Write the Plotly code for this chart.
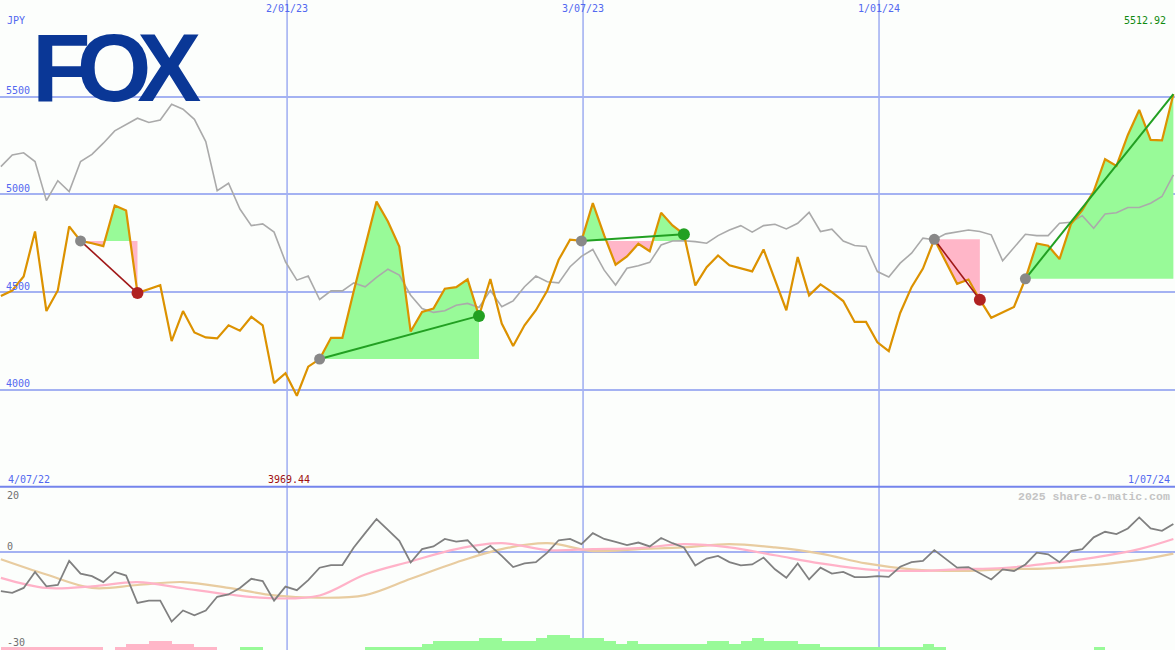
import pandas as pd
import plotly.graph_objects as go

# ---------------- data ----------------
dates = pd.date_range("2022-07-10", periods=104, freq="7D")

price = [4480, 4508, 4580, 4810, 4403, 4508, 4836, 4762, 4750, 4735,
         4943, 4917, 4495, 4517, 4535, 4249, 4403, 4293, 4268, 4263,
         4330, 4302, 4373, 4330, 4034, 4085, 3969.44, 4118, 4157, 4266,
         4266, 4505, 4735, 4963, 4861, 4733, 4298, 4398, 4415, 4517,
         4525, 4565, 4378, 4567, 4339, 4224, 4330, 4407, 4508, 4665,
         4768, 4762, 4955, 4790, 4640, 4682, 4747, 4709, 4906, 4841,
         4796, 4534, 4627, 4687, 4637, 4620, 4606, 4718, 4563, 4407,
         4679, 4483, 4539, 4500, 4454, 4347, 4347, 4243, 4198, 4393,
         4525, 4620, 4770, 4652, 4542, 4564, 4461, 4368, 4398, 4424,
         4568, 4749, 4737, 4669, 4848, 4920, 5016, 5180, 5146, 5304,
         5432, 5279, 5276, 5512.92]

benchmark = [5142, 5202, 5213, 5168, 4968, 5070, 5014, 5168, 5205, 5262,
             5325, 5359, 5390, 5368, 5381, 5461, 5436, 5384, 5270, 5019,
             5057, 4925, 4840, 4849, 4807, 4655, 4561, 4582, 4462, 4506,
             4506, 4547, 4527, 4575, 4617, 4587, 4484, 4416, 4396, 4404,
             4433, 4442, 4421, 4509, 4425, 4455, 4527, 4582, 4553, 4547,
             4630, 4683, 4718, 4612, 4536, 4622, 4635, 4652, 4741, 4761,
             4763, 4758, 4750, 4789, 4818, 4840, 4807, 4840, 4847, 4823,
             4852, 4908, 4810, 4822, 4761, 4738, 4733, 4605, 4577, 4648,
             4699, 4776, 4768, 4798, 4807, 4818, 4810, 4793, 4660, 4727,
             4796, 4789, 4789, 4852, 4857, 4891, 4827, 4900, 4906, 4933,
             4933, 4955, 4989, 5100]

momentum = [-12.0, -12.5, -11.0, -6.1, -10.5, -10.1, -2.7, -6.6, -7.4, -9.2,
            -6.1, -7.2, -15.6, -14.9, -14.9, -21.3, -17.9, -19.4, -17.9, -13.7,
            -13.0, -11.0, -8.2, -8.9, -14.9, -10.6, -11.7, -8.6, -4.8, -4.0,
            -4.0, 1.4, 5.8, 10.1, 6.8, 3.4, -3.2, 0.9, 1.7, 4.0,
            3.2, 3.6, -0.2, 1.9, -1.2, -4.6, -3.5, -3.1, -0.2, 3.6,
            4.0, 2.4, 5.8, 4.0, 3.1, 2.1, 2.9, 1.7, 4.3, 2.7,
            1.4, -4.1, -2.0, -1.2, -3.1, -4.1, -3.8, -1.7, -5.3, -7.9,
            -3.5, -8.4, -4.8, -6.6, -6.1, -7.7, -7.7, -7.4, -7.6, -4.5,
            -3.1, -2.7, 0.6, -2.2, -4.8, -4.6, -6.6, -8.4, -5.3, -5.8,
            -3.8, -0.2, -0.7, -3.1, 0.3, 0.9, 4.5, 6.2, 5.5, 7.2,
            10.6, 7.2, 6.5, 8.6]

ma_index = [0, 4, 8, 12, 16, 20, 24, 28, 32, 36, 40, 44, 48, 52, 56, 60,
            64, 68, 72, 76, 80, 84, 88, 92, 96, 100, 103]
ma_fast = [-7.9, -11.0, -10.5, -9.2, -11.1, -13.0, -14.2, -13.3, -6.9, -2.9,
           0.9, 2.7, 0.6, 0.9, 1.2, 2.4, 1.4, -1.0, -3.5, -5.3,
           -5.8, -5.3, -4.9, -3.5, -1.7, 0.9, 4.0]
ma_slow = [-2.2, -6.9, -11.0, -10.1, -9.2, -11.0, -13.3, -14.0, -13.2, -8.2,
           -3.2, 0.9, 2.7, 0.3, 0.9, 1.4, 2.4, 1.4, -0.5, -3.5,
           -5.3, -5.8, -5.3, -5.0, -4.0, -2.4, -0.5]

hist_strength = ([-1] * 9 + [0] + [-1] + [-2] * 2 + [-3] * 2 + [-2] * 2 + [-1] * 2
                 + [0] * 2 + [1] * 2 + [0] * 9 + [1] * 5 + [2] + [3] * 4 + [4] * 2
                 + [3] * 3 + [4] + [5] * 2 + [4] * 3 + [3] + [2] + [3] + [2] * 6
                 + [3] * 2 + [2] + [3] + [4] + [3] * 3 + [2] * 2 + [1] * 9 + [2]
                 + [1] + [0] * 13 + [1] + [0] * 7)

# trades: (entry index, exit index); the last one is still open
trades = [(7, 12), (28, 42), (51, 60), (82, 86), (90, 103)]

grid_dates = ["2023-01-02", "2023-07-03", "2024-01-01"]
grid_labels = ["2/01/23", "3/07/23", "1/01/24"]
range_labels = ["4/07/22", "1/07/24"]
price_ticks = [4000, 4500, 5000, 5500]
osc_ticks = [20, 0, -30]
currency = "JPY"
logo_text = "FOX"
watermark = "2025 share-o-matic.com"

# ---------------- styling ----------------
W, H = 1175, 650
BG = "#FCFEFC"
GRID = "#A4B2F2"
SEP = "#7484EC"
LBL = "#5268F0"
SPLIT = 163.3 / H  # lower panel height fraction
HIST_STEP = 0.92


def px_x(x):
    return x / W


def px_y(y):
    return 1 - y / H


fig = go.Figure()

# trade fills
for i0, i1 in trades:
    L = price[i0]
    xs = [dates[i0]]
    ys = [price[i0]]
    for i in range(i0, i1):
        p0, p1 = price[i], price[i + 1]
        if (p0 - L) * (p1 - L) < 0:
            t = (L - p0) / (p1 - p0)
            xs.append(dates[i] + (dates[i + 1] - dates[i]) * t)
            ys.append(L)
        xs.append(dates[i + 1])
        ys.append(p1)
    up = [max(v, L) for v in ys]
    dn = [min(v, L) for v in ys]
    for arr, col in ((up, "#98FA98"), (dn, "#FFB6C8")):
        fig.add_trace(go.Scatter(x=xs, y=[L] * len(xs), mode="lines",
                                 line=dict(width=0), hoverinfo="skip"))
        fig.add_trace(go.Scatter(x=xs, y=arr, mode="lines", line=dict(width=0),
                                 fill="tonexty", fillcolor=col, hoverinfo="skip"))

# benchmark (grey) and price (orange)
fig.add_trace(go.Scatter(x=dates, y=benchmark, mode="lines",
                         line=dict(color="#AAAAAA", width=1.6)))
fig.add_trace(go.Scatter(x=dates, y=price, mode="lines",
                         line=dict(color="#DC9200", width=2.2)))

# trade lines and markers
last = len(price) - 1
for i0, i1 in trades:
    win = price[i1] > price[i0]
    lc = "#22A022" if win else "#A01818"
    mc = "#22A022" if win else "#B02222"
    fig.add_trace(go.Scatter(x=[dates[i0], dates[i1]], y=[price[i0], price[i1]],
                             mode="lines", line=dict(color=lc, width=2 if win else 1.6)))
    fig.add_trace(go.Scatter(x=[dates[i0]], y=[price[i0]], mode="markers",
                             marker=dict(color="#888888", size=11)))
    if i1 != last:
        fig.add_trace(go.Scatter(x=[dates[i1]], y=[price[i1]], mode="markers",
                                 marker=dict(color=mc, size=12)))

# lower panel: histogram
hx, hy, hc = [], [], []
for d, s in zip(dates, hist_strength):
    if s != 0:
        hx.append(d)
        hy.append(abs(s) * HIST_STEP)
        hc.append("#98FA98" if s > 0 else "#FFB6C8")
fig.add_trace(go.Bar(x=hx, y=hy, base=-30, marker=dict(color=hc, line=dict(width=0)),
                     width=7 * 86400000, offset=0, yaxis="y2"))

ma_dates = [dates[i] for i in ma_index]
fig.add_trace(go.Scatter(x=ma_dates, y=ma_slow, mode="lines", yaxis="y2",
                         line=dict(color="#E8CCA0", width=2.2, shape="spline", smoothing=1)))
fig.add_trace(go.Scatter(x=ma_dates, y=ma_fast, mode="lines", yaxis="y2",
                         line=dict(color="#FFB2C8", width=2.2, shape="spline", smoothing=1)))
fig.add_trace(go.Scatter(x=dates, y=momentum, mode="lines", yaxis="y2",
                         line=dict(color="#808080", width=1.8)))

# shapes
shapes = []
for g in grid_dates:
    shapes.append(dict(type="line", xref="x", yref="paper", x0=g, x1=g, y0=0, y1=1,
                       line=dict(color=GRID, width=1.6), layer="between"))
shapes.append(dict(type="line", xref="paper", yref="paper", x0=0, x1=1,
                   y0=SPLIT, y1=SPLIT, line=dict(color=SEP, width=2), layer="between"))
shapes.append(dict(type="rect", xref="paper", yref="paper", x0=px_x(35), x1=px_x(196),
                   y0=px_y(104), y1=px_y(34), fillcolor=BG, line=dict(width=0),
                   layer="between"))

# annotations
mono = "DejaVu Sans Mono"
ann = []
ann.append(dict(text='<span style="letter-spacing:-14px">' + logo_text + '</span>',
                xref="paper", yref="paper", x=px_x(31), y=px_y(68),
                xanchor="left", yanchor="middle", showarrow=False, borderpad=0,
                font=dict(family="Liberation Sans", size=96, color="#0A3796",
                          weight="bold")))
ann.append(dict(text=currency, xref="paper", yref="paper", x=px_x(5), y=px_y(21),
                xanchor="left", yanchor="middle", showarrow=False,
                font=dict(family=mono, size=10, color=LBL)))
for v in price_ticks:
    ann.append(dict(text=str(v), xref="paper", yref="y", x=px_x(4), y=v, yshift=6,
                    xanchor="left", yanchor="middle", showarrow=False,
                    font=dict(family=mono, size=10, color=LBL)))
for g, t in zip(grid_dates, grid_labels):
    ann.append(dict(text=t, xref="x", yref="paper", x=g, y=px_y(9),
                    xanchor="center", yanchor="middle", showarrow=False,
                    font=dict(family=mono, size=10, color=LBL)))
pmax = max(price)
pmin = min(price)
imin = price.index(pmin)
ann.append(dict(text=f"{pmax:.2f}", xref="paper", yref="paper", x=px_x(1168), y=px_y(21),
                xanchor="right", yanchor="middle", showarrow=False,
                font=dict(family=mono, size=10, color="#108A10")))
ann.append(dict(text=f"{pmin:.2f}", xref="x", yref="paper", x=dates[imin], xshift=-8,
                y=px_y(479), xanchor="center", yanchor="middle", showarrow=False,
                font=dict(family=mono, size=10, color="#A01010")))
ann.append(dict(text=range_labels[0], xref="paper", yref="paper", x=px_x(6), y=px_y(479),
                xanchor="left", yanchor="middle", showarrow=False,
                font=dict(family=mono, size=10, color=LBL)))
ann.append(dict(text=range_labels[1], xref="paper", yref="paper", x=px_x(1172), y=px_y(479),
                xanchor="right", yanchor="middle", showarrow=False,
                font=dict(family=mono, size=10, color=LBL)))
ann.append(dict(text=watermark, xref="paper", yref="paper", x=px_x(1172), y=px_y(496),
                xanchor="right", yanchor="middle", showarrow=False,
                font=dict(family="Liberation Mono", size=11.5, color="#C4C4C4", weight="bold")))
osc_y = {20: 495.5, 0: 546, -30: 642}
for v in osc_ticks:
    ann.append(dict(text=str(v), xref="paper", yref="paper", x=px_x(5), y=px_y(osc_y[v]),
                    xanchor="left", yanchor="middle", showarrow=False,
                    font=dict(family=mono, size=10, color="#707070")))

fig.update_layout(
    width=W, height=H, margin=dict(l=0, r=0, t=0, b=0, pad=0),
    paper_bgcolor=BG, plot_bgcolor=BG, showlegend=False,
    xaxis=dict(type="date", range=["2022-07-09 11:00", "2024-07-01 00:00"],
               showgrid=False, zeroline=False, showticklabels=False, ticks=""),
    yaxis=dict(domain=[SPLIT, 1], range=[3503.8, 5994.9], tickvals=price_ticks,
               showgrid=True, gridcolor=GRID, gridwidth=2, zeroline=False,
               showticklabels=False, ticks=""),
    yaxis2=dict(domain=[0, SPLIT], range=[-30, 20], tickvals=[0],
                showgrid=True, gridcolor=GRID, gridwidth=2, zeroline=False,
                showticklabels=False, ticks=""),
    shapes=shapes, annotations=ann, bargap=0,
)

fig.write_html("out.html", config={"displayModeBar": False},
               post_script="document.body.style.margin='0';")
